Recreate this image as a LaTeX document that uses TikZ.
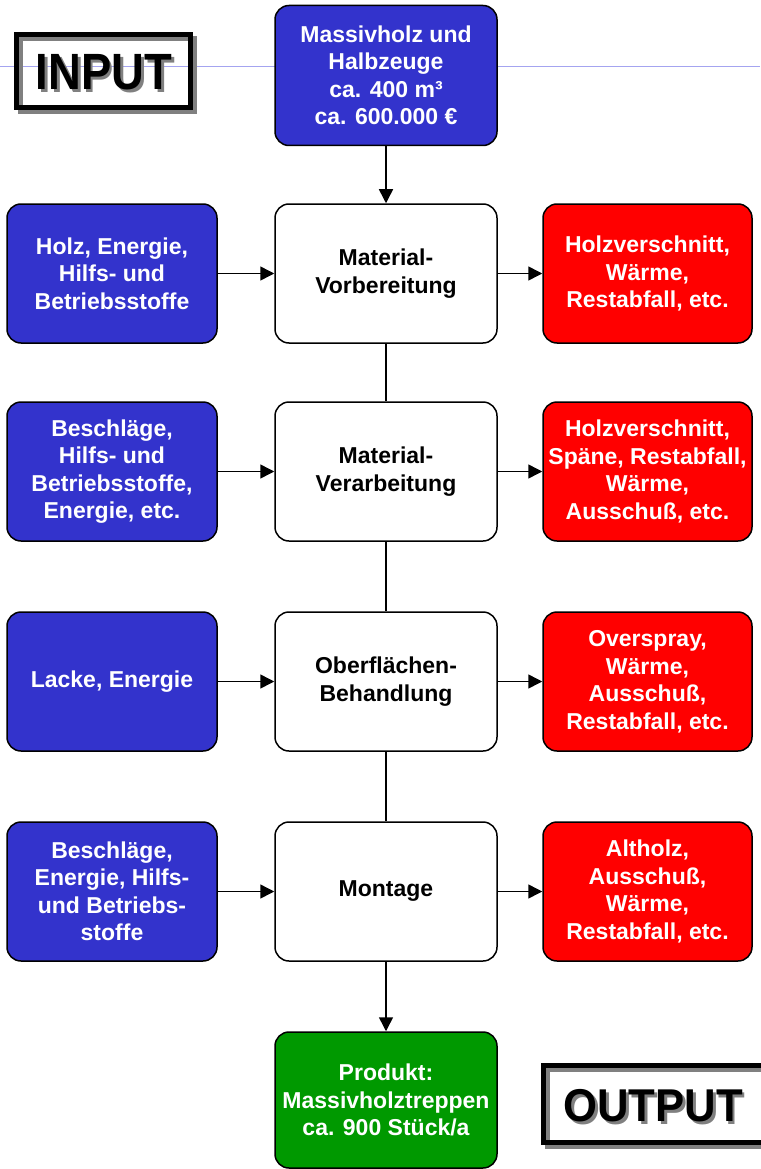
\documentclass[tikz,border=0pt]{standalone}
\usepackage{fontspec}
\setmainfont{Liberation Sans}
\usetikzlibrary{arrows.meta}

\definecolor{flowblue}{HTML}{3333CC}
\definecolor{flowred}{HTML}{FF0000}
\definecolor{flowgreen}{HTML}{009900}
\definecolor{guideline}{HTML}{A4A4F0}
\definecolor{shadowgray}{HTML}{808080}

\newcommand\boxfont{\fontsize{23}{27.5}\selectfont\bfseries}
% text with a gray drop shadow offset 3pt right and down
\newcommand\shadowed[1]{\makebox[0pt][l]{\hspace{3pt}\raisebox{-3pt}{\textcolor{shadowgray}{#1}}}#1}

\tikzset{
  box/.style={draw=black, line width=1.5pt, rounded corners=14pt,
    minimum height=139pt, inner sep=0pt, align=center, font=\boxfont},
  inbox/.style={box, fill=flowblue, text=white, minimum width=210pt},
  outbox/.style={box, fill=flowred, text=white, minimum width=209pt},
  stepbox/.style={box, fill=white, text=black, minimum width=222pt},
  flow/.style={line width=1.5pt, -{Triangle[length=14pt,width=14pt]}},
  link/.style={line width=1.5pt},
  guide/.style={draw=guideline, line width=1pt},
  frame/.style={draw=black, line width=5pt, inner sep=0pt, fill=none},
  frameshadow/.style={draw=shadowgray, line width=5pt, inner sep=0pt, fill=none},
  titletext/.style={inner sep=0pt, anchor=base, text=black},
}

\begin{document}
\begin{tikzpicture}[x=1pt,y=-1pt]
\useasboundingbox (0,0) rectangle (760,1169);

% thin horizontal guide line across the page
\coordinate (gl) at (0,67);
\coordinate (gr) at (760,67);
\draw[guide] (gl) -- (gr);

% INPUT label with frame and drop shadow
\node[frameshadow, minimum width=173.5pt, minimum height=73pt] (inshadow) at (107.25,75) {};
\node[frame, minimum width=173.5pt, minimum height=73pt] (inframe) at (103.25,71) {};
\node[titletext, font=\fontsize{51}{55}\selectfont\bfseries] (input) at (104,90)
  {\scalebox{0.89}[1]{\shadowed{INPUT}}};

% OUTPUT label with frame and drop shadow
\node[frameshadow, minimum width=221pt, minimum height=77pt] (outshadow) at (657.5,1108) {};
\node[frame, minimum width=221pt, minimum height=77pt] (outframe) at (653.5,1104) {};
\node[titletext, font=\fontsize{46}{50}\selectfont\bfseries] (output) at (653,1121.5)
  {\scalebox{0.95}[1]{\shadowed{OUTPUT}}};

% raw material input
\node[box, fill=flowblue, text=white, minimum width=222pt, minimum height=140pt] (raw) at (386,75.5)
  {Massivholz und\\Halbzeuge\\ca. 400 m³\\ca. 600.000 €};

% process steps
\node[stepbox] (s1) at (386,273.5) {Material-\\Vorbereitung};
\node[stepbox] (s2) at (386,471.5) {Material-\\Verarbeitung};
\node[stepbox] (s3) at (386,681.5) {Oberflächen-\\Behandlung};
\node[stepbox] (s4) at (386,891.5) {Montage};

% inputs per step
\node[inbox] (in1) at (112,273.5) {Holz, Energie,\\Hilfs- und\\Betriebsstoffe};
\node[inbox] (in2) at (112,471.5) {Beschläge,\\Hilfs- und\\Betriebsstoffe,\\Energie, etc.};
\node[inbox] (in3) at (112,681.5) {Lacke, Energie};
\node[inbox] (in4) at (112,891.5) {Beschläge,\\Energie, Hilfs-\\und Betriebs-\\stoffe};

% outputs per step
\node[outbox] (out1) at (647.5,273.5) {Holzverschnitt,\\Wärme,\\Restabfall, etc.};
\node[outbox] (out2) at (647.5,471.5) {Holzverschnitt,\\Späne, Restabfall,\\Wärme,\\Ausschuß, etc.};
\node[outbox] (out3) at (647.5,681.5) {Overspray,\\Wärme,\\Ausschuß,\\Restabfall, etc.};
\node[outbox] (out4) at (647.5,891.5) {Altholz,\\Ausschuß,\\Wärme,\\Restabfall, etc.};

% final product
\node[box, fill=flowgreen, text=white, minimum width=222pt, minimum height=136pt] (prod) at (386,1100)
  {Produkt:\\Massivholztreppen\\ca. 900 Stück/a};

% main flow
\draw[flow] (raw) -- (s1);
\draw[link] (s1) -- (s2);
\draw[link] (s2) -- (s3);
\draw[link] (s3) -- (s4);
\draw[flow] (s4) -- (prod);

% side flows
\foreach \i in {1,2,3,4} {
  \draw[flow] (in\i) -- (s\i);
  \draw[flow] (s\i) -- (out\i);
}
\end{tikzpicture}
\end{document}
